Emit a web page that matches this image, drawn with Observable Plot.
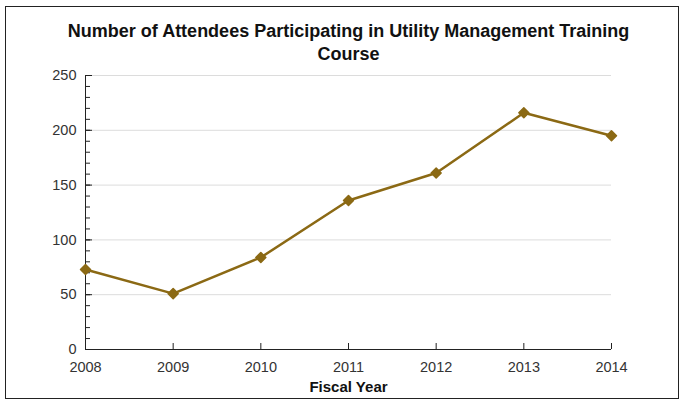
<!DOCTYPE html>
<html>
<head>
<meta charset="utf-8">
<script src="https://cdn.jsdelivr.net/npm/d3@7"></script>
<script src="https://cdn.jsdelivr.net/npm/@observablehq/plot@0.6"></script>
<style>
  html, body { margin: 0; padding: 0; background: #fff; }
  #wrap { position: relative; width: 679px; height: 400px; }
  #frame { position: absolute; left: 5px; top: 6px; width: 674px; height: 393px; box-sizing: border-box; border: 1px solid #222; pointer-events: none; }
  svg { display: block; }
</style>
</head>
<body>
<div id="wrap"><div id="frame"></div></div>
<script>
const years = [2008, 2009, 2010, 2011, 2012, 2013, 2014];
const attendees = [73, 51, 84, 136, 161, 216, 195];
const yMajorTicks = [0, 50, 100, 150, 200, 250];
const yMinorTicks = d3.range(0, 251, 10);
const gridTicks = [50, 100, 150, 200, 250];
const title = "Number of Attendees Participating in Utility Management Training\nCourse";
const xTitle = "Fiscal Year";
const lineColor = "#8B6914";

const data = years.map((year, i) => ({year, value: attendees[i]}));

const chart = Plot.plot({
  width: 679,
  height: 400,
  marginLeft: 85,
  marginRight: 68,
  marginTop: 75,
  marginBottom: 51,
  style: {fontFamily: "'Liberation Sans', Arial, sans-serif", fontSize: "14.5px", background: "transparent", overflow: "visible"},
  x: {domain: [2008, 2014], axis: null},
  y: {domain: [0, 250], axis: null},
  marks: [
    Plot.gridY(gridTicks, {stroke: "#dcdcdc", strokeOpacity: 1}),
    // y minor ticks (inward)
    Plot.axisY({ticks: yMinorTicks, tickSize: 5, dx: 5, fill: "none", stroke: "#222", label: null}),
    // y major ticks (inward)
    Plot.axisY({ticks: yMajorTicks, tickSize: 7, dx: 7, fill: "none", stroke: "#222", label: null}),
    // y labels
    Plot.axisY({ticks: yMajorTicks, tickSize: 0, tickPadding: 9, fill: "#333", fontSize: 14.5, label: null}),
    // x ticks (inward)
    Plot.axisX({ticks: years, tickSize: 6, dy: -6, fill: "none", stroke: "#222", label: null}),
    // x labels
    Plot.axisX({ticks: years, tickSize: 0, tickPadding: 12, tickFormat: "d", fill: "#333", fontSize: 14.5, label: null}),
    Plot.ruleX([2008], {stroke: "#222"}),
    Plot.ruleY([0], {stroke: "#222"}),
    Plot.line(data, {x: "year", y: "value", stroke: lineColor, strokeWidth: 2.5}),
    Plot.dot(data, {x: "year", y: "value", symbol: "diamond2", r: 4.5, fill: lineColor, stroke: lineColor, strokeWidth: 1.5, strokeLinejoin: "round"}),
    Plot.text([title], {frameAnchor: "top", lineAnchor: "top", dy: -55, lineHeight: 1.28, fontSize: 18, fontWeight: "bold", fill: "#111", text: d => d}),
    Plot.text([xTitle], {frameAnchor: "bottom", lineAnchor: "middle", dy: 38, fontSize: 15, fontWeight: "bold", fill: "#111", text: d => d})
  ]
});
document.getElementById("wrap").prepend(chart);
</script>
</body>
</html>
